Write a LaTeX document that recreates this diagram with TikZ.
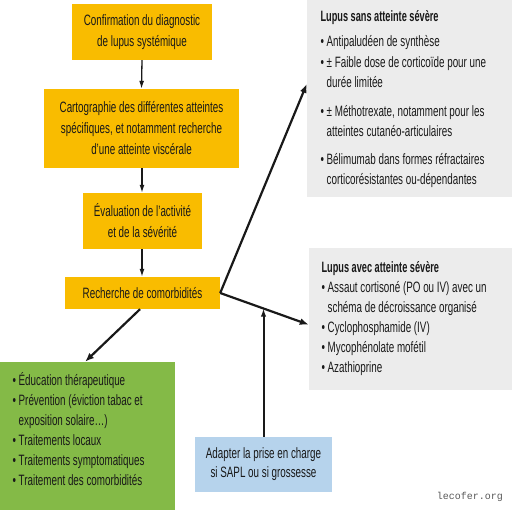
\documentclass[tikz,border=0pt]{standalone}
\usepackage{fontspec}
\setmainfont{Liberation Sans}[FakeStretch=0.655, BoldFeatures={FakeStretch=0.613}]
\setmonofont{Liberation Mono}
\usetikzlibrary{arrows.meta,calc}
\definecolor{boxor}{RGB}{249,188,0}
\definecolor{boxgr}{RGB}{132,186,71}
\definecolor{boxbl}{RGB}{182,211,236}
\definecolor{boxgy}{RGB}{236,236,236}
\definecolor{txt}{RGB}{25,25,25}
\newcommand\fs{\fontsize{15}{21}\selectfont}
\newcommand\fsl{\fontsize{15}{20}\selectfont}
\newcommand\itm{\textbullet\ }
\newcommand\cnt{\phantom{\textbullet\ }}
\tikzset{
  orbox/.style={fill=boxor, align=center, inner sep=0pt, font=\fs, text=txt},
  listbox/.style={align=left, inner ysep=0pt, font=\fsl, text=txt, anchor=north west},
  thinarr/.style={draw=txt, line width=1.3pt, -{Latex[length=8pt,width=5pt]}},
  thickarr/.style={draw=txt, line width=2.2pt, -{Latex[length=9pt,width=7pt]}},
}
\begin{document}
\begin{tikzpicture}[x=1pt,y=-1pt]
\useasboundingbox (0,0) rectangle (512,512);
% orange boxes
\node[orbox, minimum width=140pt, minimum height=56pt] (b1) at (142,32)
  {Confirmation du diagnostic\\de lupus systémique};
\node[orbox, minimum width=195pt, minimum height=79pt] (b2) at (141.5,128.5)
  {Cartographie des différentes atteintes\\spécifiques, et notamment recherche\\d'une atteinte viscérale};
\node[orbox, minimum width=119pt, minimum height=56pt] (b3) at (142.5,221)
  {Évaluation de l'activité\\et de la sévérité};
\node[orbox, minimum width=155pt, minimum height=32pt] (b4) at (142.5,293)
  {Recherche de comorbidités};
% gray boxes
\node[fill=boxgy, minimum width=205pt, minimum height=197pt, inner sep=0pt] (g1) at (409.5,98.5) {};
\node[listbox] (t1) at (317,10)
  {\textbf{Lupus sans atteinte sévère}\\[5pt]
   \itm Antipaludéen de synthèse\\[1pt]
   \itm ± Faible dose de corticoïde pour une\\
   \cnt durée limitée\\[9pt]
   \itm ± Méthotrexate, notamment pour les\\
   \cnt atteintes cutanéo-articulaires\\[8pt]
   \itm Bélimumab dans formes réfractaires\\
   \cnt corticorésistantes ou-dépendantes};
\node[fill=boxgy, minimum width=203pt, minimum height=142pt, inner sep=0pt] (g2) at (410.5,319) {};
\node[listbox] (t2) at (318,261)
  {\textbf{Lupus avec atteinte sévère}\\
   \itm Assaut cortisoné (PO ou IV) avec un\\
   \cnt schéma de décroissance organisé\\
   \itm Cyclophosphamide (IV)\\
   \itm Mycophénolate mofétil\\
   \itm Azathioprine};
% green box
\node[fill=boxgr, minimum width=175pt, minimum height=148pt, inner sep=0pt] (gr) at (87.5,436) {};
\node[listbox] (t3) at (9,372)
  {\itm Éducation thérapeutique\\
   \itm Prévention (éviction tabac et\\
   \cnt exposition solaire…)\\
   \itm Traitements locaux\\
   \itm Traitements symptomatiques\\
   \itm Traitement des comorbidités};
% blue box
\node[fill=boxbl, minimum width=137pt, minimum height=55pt, inner sep=0pt, align=center,
  font=\fontsize{15}{19}\selectfont, text=txt] (bl) at (263.5,464.5)
  {Adapter la prise en charge\\si SAPL ou si grossesse};
% watermark
\node[font=\fontsize{10}{12}\selectfont\ttfamily, text=black!65] (wm) at (470,497) {lecofer.org};
% connectors
\draw[thinarr] (b1.south) -- (b2.north);
\draw[thinarr] (b2.south -| b1.south) -- (b3.north -| b1.south);
\draw[thinarr] (b3.south -| b1.south) -- (b4.north -| b1.south);
\coordinate (e1) at ($(g1.north west)!0.426!(g1.south west)$);
\coordinate (e2) at ($(g2.north west)!0.54!(g2.south west)$);
\coordinate (e3) at ($(gr.north west)!0.486!(gr.north east)$);
\coordinate (s4) at ($(b4.south west)!0.484!(b4.south east)$);
\draw[thickarr] (b4.east) -- (e1);
\draw[thickarr] (b4.east) -- (e2);
\draw[thickarr] (s4) -- (e3);
\coordinate (j) at ($(b4.east)!0.494!(e2)$);
\draw[draw=txt, line width=2pt, -{Latex[length=8pt,width=5.5pt]}] (bl.north) -- (bl.north |- j);
\end{tikzpicture}
\end{document}
